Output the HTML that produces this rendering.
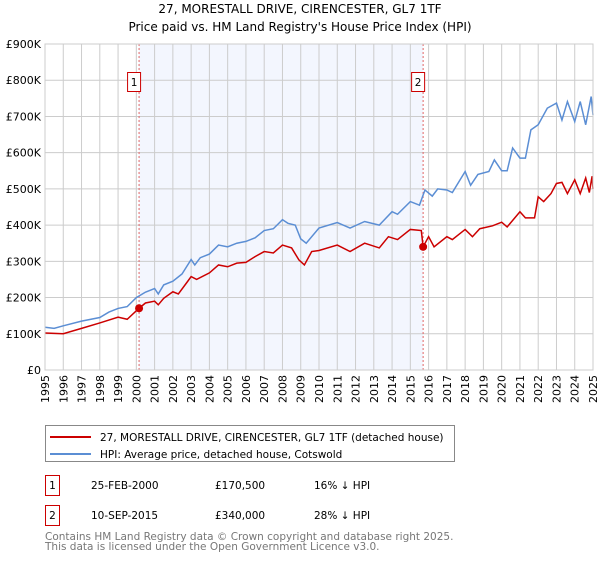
<!DOCTYPE html>
<html><head><meta charset="utf-8"><style>
body{margin:0;background:#fff;font-family:"DejaVu Sans","Liberation Sans",sans-serif;}
svg text{font-family:"DejaVu Sans","Liberation Sans",sans-serif;}
</style></head><body>
<svg id="chart" width="600" height="560" xmlns="http://www.w3.org/2000/svg">
<text x="300" y="13" text-anchor="middle" font-size="12" fill="#000">27, MORESTALL DRIVE, CIRENCESTER, GL7 1TF</text>
<text x="300" y="31" text-anchor="middle" font-size="12" fill="#000">Price paid vs. HM Land Registry's House Price Index (HPI)</text>
<g id="plot"></g>
<g>
<rect x="45.5" y="425.5" width="409" height="36" fill="#fff" stroke="#888"/>
<line x1="50" y1="437" x2="91" y2="437" stroke="#cc0000" stroke-width="2"/>
<text x="100" y="441" font-size="10.5" fill="#000">27, MORESTALL DRIVE, CIRENCESTER, GL7 1TF (detached house)</text>
<line x1="50" y1="454" x2="91" y2="454" stroke="#5b8ed4" stroke-width="2"/>
<text x="100" y="458" font-size="10.5" fill="#000">HPI: Average price, detached house, Cotswold</text>
</g>
<g font-size="10.5" fill="#000">
<rect x="45.5" y="475.5" width="14" height="20" fill="#fff" stroke="#cc0000"/>
<text x="52.5" y="489" text-anchor="middle">1</text>
<text x="91" y="489">25-FEB-2000</text><text x="215" y="489">£170,500</text><text x="314" y="489">16% ↓ HPI</text>
<rect x="45.5" y="505.5" width="14" height="20" fill="#fff" stroke="#cc0000"/>
<text x="52.5" y="519" text-anchor="middle">2</text>
<text x="91" y="519">10-SEP-2015</text><text x="215" y="519">£340,000</text><text x="314" y="519">28% ↓ HPI</text>
</g>
<g font-size="10.5" fill="#777">
<text x="45" y="540">Contains HM Land Registry data © Crown copyright and database right 2025.</text>
<text x="45" y="550">This data is licensed under the Open Government Licence v3.0.</text>
</g>
</svg>
<script>
const yTicks=[0,100000,200000,300000,400000,500000,600000,700000,800000,900000];
const yTickLabels=["£0","£100K","£200K","£300K","£400K","£500K","£600K","£700K","£800K","£900K"];
const xTicks=[1995,1996,1997,1998,1999,2000,2001,2002,2003,2004,2005,2006,2007,2008,2009,2010,2011,2012,2013,2014,2015,2016,2017,2018,2019,2020,2021,2022,2023,2024,2025];
const hpiYears=[1995,1995.5,1996,1997,1998,1998.5,1999,1999.5,2000,2000.5,2001,2001.2,2001.5,2002,2002.5,2003,2003.2,2003.5,2004,2004.5,2005,2005.5,2006,2006.5,2007,2007.5,2008,2008.3,2008.7,2009,2009.3,2010,2011,2011.7,2012.5,2013.3,2014,2014.3,2015,2015.5,2015.8,2016.2,2016.5,2017,2017.3,2018,2018.3,2018.7,2019.3,2019.6,2020,2020.3,2020.6,2021,2021.3,2021.6,2022,2022.5,2023,2023.3,2023.6,2024,2024.3,2024.6,2024.9,2025];
const hpiValues=[118,115,122,135,145,160,170,175,200,215,225,210,235,245,265,305,290,310,320,345,340,350,355,365,385,390,415,405,400,362,350,392,407,392,410,400,437,430,465,455,497,480,500,497,490,548,510,540,548,580,550,550,613,585,585,663,677,723,737,690,741,686,741,677,755,704];
const ppYears=[1995,1996,1997,1998,1999,1999.5,2000.15,2000.5,2001,2001.2,2001.5,2002,2002.3,2002.8,2003,2003.3,2004,2004.5,2005,2005.5,2006,2006.5,2007,2007.5,2008,2008.5,2008.9,2009.2,2009.6,2010,2011,2011.7,2012.5,2013.3,2013.8,2014.3,2015,2015.6,2015.7,2016,2016.3,2017,2017.3,2018,2018.4,2018.8,2019.5,2020,2020.3,2021,2021.3,2021.8,2022,2022.3,2022.7,2023,2023.3,2023.6,2024,2024.3,2024.6,2024.8,2024.95,2025];
const ppValues=[102,100,115,130,146,140,170.5,185,190,180,198,216,210,244,258,250,268,290,285,295,297,313,327,323,345,337,304,290,327,330,345,327,350,337,368,360,388,385,340,368,340,368,360,388,368,390,398,408,395,437,420,420,478,465,487,515,518,487,525,487,530,490,535,500];
const sales=[[2000.15,170.5,"1"],[2015.7,340,"2"]];
const NS="http://www.w3.org/2000/svg";
const L=45,R=593,T=44,B=370;
const xS=y=>L+(y-1995)/30*(R-L);
const yS=v=>B-v/900000*(B-T);
function mk(tag,attrs,parent){const e=document.createElementNS(NS,tag);for(const k in attrs)e.setAttribute(k,attrs[k]);parent.appendChild(e);return e;}
const g=document.getElementById('plot');
const bg=mk('rect',{x:L,y:T,width:R-L,height:B-T,fill:'#fff'},g);


const sh=mk('rect',{x:xS(sales[0][0]),y:T,width:xS(sales[1][0])-xS(sales[0][0]),height:B-T,fill:'#f3f6fe'},g);


xTicks.forEach(t=>{
 const l=mk('line',{x1:xS(t),x2:xS(t),y1:T,y2:B,stroke:'#cccccc','stroke-width':1},g);
 
 
 const tx=mk('text',{x:0,y:0,'font-size':11,fill:'#000','text-anchor':'end',transform:`translate(${xS(t)+4},375) rotate(-90)`},g);
 tx.textContent=t;
 
 
});
yTicks.forEach((t,i)=>{
 const l=mk('line',{x1:L,x2:R,y1:yS(t),y2:yS(t),stroke:'#cccccc','stroke-width':1},g);
 
 
 const tx=mk('text',{x:41,y:yS(t)+4,'font-size':11,fill:'#000','text-anchor':'end'},g);
 tx.textContent=yTickLabels[i];
 
 
});
sales.forEach(s=>{
 const l=mk('line',{x1:xS(s[0]),x2:xS(s[0]),y1:T,y2:B,stroke:'#e06666','stroke-width':1,'stroke-dasharray':'2,2'},g);
 
 
 const r=mk('rect',{x:xS(s[0])-11.5,y:72.5,width:13,height:19,fill:'#fff',stroke:'#cc0000'},g);
 
 
 const t=mk('text',{x:xS(s[0])-5,y:86,'font-size':10.5,'text-anchor':'middle',fill:'#000'},g);
 t.textContent=s[2];
 
 
});
const hp=mk('polyline',{points:hpiYears.map((y,i)=>xS(y)+','+yS(hpiValues[i]*1000)).join(' '),fill:'none',stroke:'#5b8ed4','stroke-width':1.5},g);


const pp=mk('polyline',{points:ppYears.map((y,i)=>xS(y)+','+yS(ppValues[i]*1000)).join(' '),fill:'none',stroke:'#cc0000','stroke-width':1.5},g);


sales.forEach(s=>{
 const c=mk('circle',{cx:xS(s[0]),cy:yS(s[1]*1000),r:4,fill:'#cc0000'},g);
 
 
});
const fr=mk('rect',{x:L,y:T,width:R-L,height:B-T,fill:'none',stroke:'#cccccc'},g);


</script>
</body></html>
